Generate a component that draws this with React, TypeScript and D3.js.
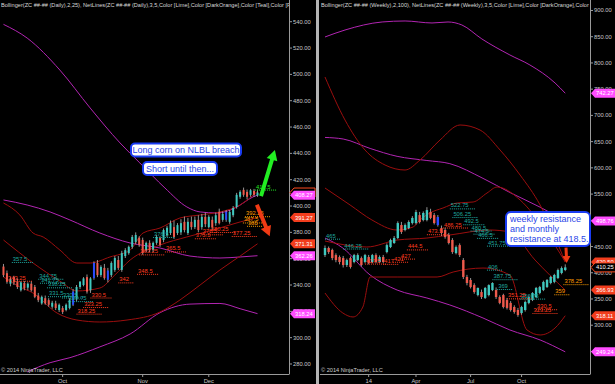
import React from "react";
import * as d3 from "d3";

type OHLC = [number, number, number, number];
type Pt = [number, number];

// ---------- DAILY (left) ----------
const dailyOHLC: OHLC[] = [
  [354, 356, 346, 347.5], [349, 351, 341, 342.5], [341, 346, 339, 344.5], [346, 347, 340, 342],
  [343, 345, 337, 338.5], [336, 343, 335, 342], [341.5, 343, 336, 337.5], [338, 342, 336, 341],
  [341, 343, 335, 336], [338.5, 340, 330, 331], [332, 334, 327, 328.5], [326, 332, 325, 331],
  [330, 332, 325, 326], [328.5, 330, 323.5, 325], [323.5, 328, 322, 326.5], [326, 328, 321, 322.5],
  [321, 326, 319.5, 325], [322.5, 324, 318, 319.5], [321, 326, 320, 325], [322.5, 330, 321.5, 328.5],
  [325, 337, 324, 335], [329, 340, 327.5, 338.5], [338.5, 343, 337, 342.5], [340, 346, 339, 345],
  [346, 348, 333.5, 335], [336, 346, 334, 345], [345.25, 358, 344, 356.75], [356.75, 359, 346, 347.5],
  [347.5, 355, 346, 353.75], [353, 356, 344, 345.25], [351, 353, 342, 344], [347.5, 358, 346, 356.75],
  [351.5, 362, 350, 360.5], [359, 362, 351.5, 353], [351.5, 366, 350, 364.25], [362, 368, 360.5, 366.5],
  [364.25, 370, 363, 369], [369, 378, 367.5, 376.5], [372.75, 380, 371, 378], [375.75, 377, 369, 370.5],
  [374.25, 376, 363, 364.25], [366.5, 373, 365, 372], [372, 374, 365, 366.5], [366.5, 373, 365, 372],
  [372, 378, 370.5, 376.5], [375.75, 377, 369, 370.5], [374.25, 383, 372.5, 381.75], [378, 385, 376.5, 383.5],
  [379.5, 389, 378, 387], [384, 389, 375, 376.5], [379.5, 387, 378, 385.5], [380, 390, 378, 387],
  [388, 392, 380, 381.75], [379.5, 391, 378, 388], [388, 392, 382, 384], [384, 392, 382.5, 389.5],
  [389.5, 393, 380, 381.75], [384, 394, 382, 391.75], [391.75, 395, 384, 386.25], [384, 393, 383, 391.75],
  [389.5, 392, 382, 384], [387, 395, 385, 393], [395.5, 398, 386, 387], [389.5, 396, 388, 394],
  [395.5, 397, 388, 389.5], [388, 397, 386.5, 395.5], [393, 400, 391.5, 398.5], [399.25, 410, 398, 408.5],
  [407, 412, 405.5, 410.75], [412.25, 414, 407, 408.5], [410.75, 412.5, 405, 407], [408.5, 413, 407, 412],
  [411.5, 413, 407, 408.5], [408, 412.5, 407, 410.25],
];
const dailyBlue = [20, 26, 30, 64];
const dailyTickIdx = [17, 40, 59];
const dailyTickLabels = ["Oct", "Nov", "Dec"];
const dailyYTicks = [280, 300, 320, 340, 360, 380, 400, 420, 440, 460, 480, 500, 520, 540];

const dailyBBUpper: Pt[] = [[0, 538], [6.8, 527.6], [16.2, 503.3], [24.9, 474.5], [33.5, 447.9], [39.2, 432.7], [46.4, 413.7], [52.7, 399.3], [56.5, 395.5], [61.4, 394.7], [66.5, 398.5], [71.7, 406.9], [73, 408.27]];
const dailyBBMid: Pt[] = [[0, 404.6], [6.8, 400.8], [13.4, 395.5], [19.1, 389.4], [27.7, 379.5], [36.4, 371.9], [45, 368.1], [53.6, 362], [62.2, 360.5], [68, 361.3], [73, 362.26]];
const dailyBBLower: Pt[] = [[6.8, 274], [13.4, 281], [19.1, 284.8], [27.7, 293], [36.4, 302.8], [45, 319], [53.6, 325.5], [62.2, 326], [68, 322], [73, 318.24]];
const dailyRedUpper: Pt[] = [[0, 402.3], [4.7, 393.2], [8.5, 379.5], [11.4, 376.5], [16.2, 366.6], [21.1, 356.7], [24.9, 356.7], [30.6, 361.3], [36.4, 366.6], [40.1, 379.5], [45, 383.3], [50.7, 390.9], [56.5, 393.2], [62.2, 395.5], [68, 400.8], [73, 411.2]];
const dailyRedMid: Pt[] = [[0, 374.2], [8.5, 356.7], [16.2, 343], [21.1, 335.5], [27.7, 337.7], [32, 347.6], [36.4, 359], [45, 370.4], [52.7, 376.5], [60.2, 381.8], [68, 387.9], [73, 391.27]];
const dailyRedLower: Pt[] = [[0, 346.1], [4.7, 338.5], [8.5, 333.9], [15.4, 318.7], [21.1, 313.4], [27.7, 311.9], [35.5, 313.4], [45, 319.5], [50.7, 328.6], [56.5, 340], [62.2, 351.4], [68, 362], [73, 371.31]];

// NetLines levels: [bar index, price]
const dailyNetTeal: Pt[] = [[2.4, 357.5], [10, 344.75], [10.5, 341.75], [12.5, 338.25], [12.8, 331.5], [16.8, 330.5], [18.5, 327.75], [43, 376.5]];
const dailyNetRed: Pt[] = [[1, 343.25], [25, 330.5], [22.9, 323.25], [21, 318.25], [39, 363.25], [38.4, 348.5], [33, 342], [46.4, 365.5], [55, 375.5], [57, 378.5], [59.3, 380.25], [65.6, 377.25]];
const dailyNetOrange: Pt[] = [[69.4, 392.25], [68.8, 387.5], [70, 385]];
const dailyNetLime: Pt[] = [[72.3, 412.5]];

const dailyLast = 410.25;
const dailyMagentaTags = [408.27, 362.26, 318.24];
const dailyRedTags = [391.27, 371.31];

// ---------- WEEKLY (right) ----------
const weeklyOHLC: OHLC[] = [
  [433.75, 452, 430, 447.25], [447.25, 450, 436, 439.5], [443.5, 446, 424, 428], [433.75, 437, 420, 424.25],
  [430, 433, 416, 420.5], [428, 432, 410, 414.75], [414.75, 427, 411, 424.25], [428, 431, 408, 411],
  [420.5, 436, 418, 433.75], [424.25, 437, 422, 433.75], [428, 431, 412, 414.75], [420.5, 436, 418, 433.75],
  [430, 434, 416, 418.5], [420.5, 436, 418, 433.75], [433.75, 437, 418, 420.5], [420.5, 433, 418, 430],
  [430, 434, 418, 420.5], [439.5, 456, 437, 452.75], [449, 465, 447, 462.5], [456.75, 470, 455, 466.25],
  [466.25, 498, 464, 494.75], [491, 497, 474, 477.75], [481.5, 494, 479, 491], [485.25, 500, 483, 496.75],
  [494.75, 508, 492, 504.5], [494.75, 520, 492, 515.75], [510, 516, 494, 496.75], [500.5, 517, 498, 514],
  [500.5, 525, 498, 519.5], [515.75, 522, 502, 504.5], [510, 514, 492, 494.75], [506.25, 510, 488, 491],
  [485.25, 490, 470, 475.75], [481.5, 486, 465, 468.25], [472, 476, 454, 456.75], [462.5, 466, 436, 439.5],
  [437.5, 452, 435, 449], [452.75, 456, 430, 433.75], [424.25, 428, 388, 392], [392, 396, 376, 380.5],
  [386.25, 390, 370, 372.75], [376.5, 380, 360, 363.25], [357.5, 372, 355, 371], [363.25, 368, 350, 353.75],
  [352, 373, 350, 371], [357.5, 378, 355, 376.5], [367, 382, 365, 380.5], [367, 372, 350, 353.75],
  [353.75, 357, 340, 342.5], [357.5, 360, 332, 334.75], [348, 352, 330, 333], [342.5, 346, 326, 329],
  [334.75, 338, 322, 325.25], [329, 333, 316, 319.5], [323.25, 337, 320, 334.75], [329, 347, 326, 344.25],
  [342.5, 357, 340, 353.75], [348, 363, 346, 361.5], [353.75, 373, 352, 371], [361.5, 375, 359, 372.75],
  [367, 385, 365, 382.5], [372.75, 388, 371, 386.25], [380.5, 394, 378, 392], [382.5, 398, 380, 395.75],
  [390, 408, 388, 405.25], [399.5, 412, 397, 409], [405.25, 416, 403, 410.25],
];
const weeklyBlue = [31];
const weeklyTickIdx = [12, 25, 40, 54];
const weeklyTickLabels = ["14", "Apr", "Jul", "Oct"];
const weeklyYTicks = [250, 300, 350, 400, 450, 500, 550, 600, 650, 700, 750, 800, 850, 900];

const weeklyBBUpper: Pt[] = [[0, 849.5], [5.5, 862.8], [15.7, 878.1], [22, 880], [29.4, 876.2], [33.8, 878.1], [37.6, 872.4], [43.1, 845.7], [50.8, 815.2], [56.3, 796.1], [63.2, 761.8], [66, 742.27]];
const weeklyBBMid: Pt[] = [[0, 658], [5, 655], [12.4, 637], [19.8, 622], [28, 614], [34.3, 608], [43.4, 580], [50.8, 553], [59.1, 525], [66, 498.76]];
const weeklyBBLower: Pt[] = [[0, 466.2], [4.9, 447.2], [12.4, 395.7], [19.8, 367.1], [28, 351.9], [34.3, 338.6], [43.4, 313.8], [50.8, 290.9], [59.1, 271.9], [66, 249.24]];
const weeklyRedOuter: Pt[] = [[0, 773.2], [5.5, 691.2], [11, 634], [16.5, 605.4], [22, 595.9], [26.1, 614.9], [31.6, 653.1], [37.1, 681.7], [42.6, 672.1], [48.1, 634], [53.6, 586.3], [59.1, 529.1], [66, 420.5]];
const weeklyRedUpper: Pt[] = [[0, 561.6], [6.9, 529.2], [12.9, 500.6], [19.8, 481.5], [24.2, 487.2], [26.1, 500.6], [28.8, 513.9], [32.4, 523.4], [36.3, 533], [40.7, 534.9], [44.5, 552], [47.3, 563.5], [53.6, 538.7], [60.4, 481.5], [66, 420.5]];
const weeklyRedMid: Pt[] = [[0, 460.5], [11.5, 449.1], [19.8, 462.4], [28, 466.2], [34.3, 472], [45.3, 481.5], [50.8, 477.7], [57.7, 424.3], [66, 366.93]];
const weeklyRedLower: Pt[] = [[0, 361.4], [4.9, 323.3], [7.7, 315.7], [10.4, 334.7], [12.4, 391.9], [19.8, 391.9], [30.8, 391.9], [35.2, 401.4], [43.4, 409], [50.8, 395.7], [55.5, 290.9], [59.1, 281.4], [63.2, 294.7], [66, 318.11]];

const weeklyNetTeal: Pt[] = [[0, 465], [5, 446.25], [34.3, 522.75], [35, 506.25], [38, 492.5], [40, 480.5], [40.8, 474.5], [41.8, 466.5], [44.5, 451.75], [44.5, 406], [46, 387.75], [47.3, 369], [53.6, 350.75]];
const weeklyNetRed: Pt[] = [[11, 417.5], [16, 417], [18.7, 421], [20.6, 427], [22.5, 444.5], [28, 473.5], [32.4, 486.25], [50, 351.25], [58, 330.5], [57, 323.25]];
const weeklyNetOrange: Pt[] = [[65.5, 378.25], [63, 359]];

const weeklyLast = 410.25;
const weeklyMagentaTags = [742.27, 498.76, 249.24];
const weeklyRedTags = [420.5, 366.93, 318.11];

// ---------- layout ----------
const W = 615, H = 384;
const BOTTOM = 374;
const L = { x0: 0, x1: 289 };
const R = { x0: 320, x1: 590 };

const FONT = "Liberation Sans, Arial, sans-serif";
const UP = "#3fc8bf";
const DOWN = "#ef5a4c";
const BLUE = "#2a4cff";
const TEAL = "#1fa79f";
const NETRED = "#ff3b1f";
const ORANGE = "#ff9c00";
const LIME = "#22ee22";
const MAG = "#b225b2";
const DRED = "#9b0e0e";
const GRID = "#9a9a9a";

function arrowPath(x1: number, y1: number, x2: number, y2: number, shaft: number, headW: number, headL: number) {
  const dx = x2 - x1, dy = y2 - y1, len = Math.hypot(dx, dy);
  const ux = dx / len, uy = dy / len, px = -uy, py = ux;
  const bx = x2 - ux * headL, by = y2 - uy * headL;
  const p = [
    [x1 + px * shaft / 2, y1 + py * shaft / 2],
    [bx + px * shaft / 2, by + py * shaft / 2],
    [bx + px * headW / 2, by + py * headW / 2],
    [x2, y2],
    [bx - px * headW / 2, by - py * headW / 2],
    [bx - px * shaft / 2, by - py * shaft / 2],
    [x1 - px * shaft / 2, y1 - py * shaft / 2],
  ];
  return "M" + p.map((q) => q[0].toFixed(1) + "," + q[1].toFixed(1)).join("L") + "Z";
}

function Tag({ x, y, text, fill, stroke }: { x: number; y: number; text: string; fill: string; stroke?: string }) {
  const h = 4.5;
  const d = `M${x},${y}L${x + 4},${y - h}L${x + 25},${y - h}L${x + 25},${y + h}L${x + 4},${y + h}Z`;
  return (
    <g>
      <path d={d} fill={fill} stroke={stroke || "none"} strokeWidth={1} />
      <text x={x + 5} y={y + 2} fontSize={5.8} fill="#ffffff" fontFamily={FONT}>{text}</text>
    </g>
  );
}

function Panel(props: {
  id: string; x0: number; x1: number; xDomain: [number, number]; yDomain: [number, number];
  ohlc: OHLC[]; blue: number[]; tickIdx: number[]; tickLabels: string[]; yTicks: number[];
  bands: { pts: Pt[]; color: string }[];
  net: { pts: Pt[]; color: string }[];
  magTags: number[]; redTags: number[]; last: number; title: string; bodyW: number;
}) {
  const { x0, x1 } = props;
  const xs = d3.scaleLinear().domain(props.xDomain).range([x0, x1]);
  const ys = d3.scaleLinear().domain(props.yDomain).range([BOTTOM, 0]);
  const line = d3.line<Pt>().x((d) => xs(d[0])).y((d) => ys(d[1])).curve(d3.curveMonotoneX);
  const clip = "clip-" + props.id;
  return (
    <g>
      <defs>
        <clipPath id={clip}><rect x={x0} y={0} width={x1 - x0} height={BOTTOM} /></clipPath>
      </defs>
      <g clipPath={`url(#${clip})`}>
        {props.bands.map((b, i) => (
          <path key={"b" + i} d={line(b.pts) || ""} fill="none" stroke={b.color} strokeWidth={1} />
        ))}
        {props.ohlc.map((c, i) => {
          const [o, h, l, cl] = c;
          const cx = xs(i);
          const up = cl >= o;
          const col = props.blue.includes(i) ? BLUE : up ? UP : DOWN;
          const top = ys(Math.max(o, cl)), bot = ys(Math.min(o, cl));
          return (
            <g key={"c" + i}>
              <line x1={cx} x2={cx} y1={ys(h)} y2={ys(l)} stroke="#b8b8b8" strokeWidth={0.8} />
              <rect x={cx - props.bodyW / 2} y={top} width={props.bodyW} height={Math.max(1, bot - top)} fill={col} />
            </g>
          );
        })}
        {props.net.map((n, k) =>
          n.pts.map((p, i) => {
            const x = xs(p[0]);
            const y = ys(p[1]);
            const t = String(p[1]);
            const w = t.length * 3.2 + 6;
            return (
              <g key={"n" + k + "-" + i}>
                <line x1={x} x2={x + w} y1={y + 0.5} y2={y + 0.5} stroke={n.color} strokeWidth={1} strokeDasharray="1,1" />
                <text x={x + 1} y={y - 1} fontSize={5.8} fill={n.color} fontFamily={FONT}>{t}</text>
              </g>
            );
          })
        )}
        <text x={x0 + 1} y={7} fontSize={5.6} fill="#d8d8d8" fontFamily={FONT}>{props.title}</text>
      </g>
      <text x={x0 + 1} y={372} fontSize={5.6} fill="#cfcfcf" fontFamily={FONT}>© 2014 NinjaTrader, LLC</text>
      {/* axes */}
      <line x1={x1 + 0.5} x2={x1 + 0.5} y1={0} y2={BOTTOM} stroke={GRID} strokeWidth={1} />
      <line x1={x0} x2={x1 + 0.5} y1={BOTTOM + 0.5} y2={BOTTOM + 0.5} stroke={GRID} strokeWidth={1} />
      {props.yTicks.map((t) => (
        <g key={"y" + t}>
          <line x1={x1 + 1} x2={x1 + 3} y1={ys(t)} y2={ys(t)} stroke={GRID} />
          <text x={x1 + 4} y={ys(t) + 2} fontSize={5.8} fill="#c8c8c8" fontFamily={FONT}>{t.toFixed(2)}</text>
        </g>
      ))}
      {props.tickIdx.map((t, i) => (
        <g key={"x" + i}>
          <line x1={xs(t)} x2={xs(t)} y1={BOTTOM} y2={BOTTOM + 3} stroke={GRID} />
          <text x={xs(t)} y={382.5} fontSize={5.8} fill="#c8c8c8" fontFamily={FONT} textAnchor="middle">{props.tickLabels[i]}</text>
        </g>
      ))}
      {props.redTags.map((v) => <Tag key={"r" + v} x={x1 + 1} y={ys(v)} text={v.toFixed(2)} fill="#f23d1d" />)}
      <Tag x={x1 + 1} y={ys(props.last)} text={props.last.toFixed(2)} fill="#000000" stroke="#ff4a20" />
      {props.magTags.map((v) => <Tag key={"m" + v} x={x1 + 1} y={ys(v)} text={v.toFixed(2)} fill="#ff4dff" />)}
    </g>
  );
}

export default function App() {
  const lxDomain: [number, number] = [-1, 82.05];
  const rxDomain: [number, number] = [-1.37, 72.8];
  const lyDomain: [number, number] = [272.4, 556.5];
  const ryDomain: [number, number] = [207, 920];
  const lx = d3.scaleLinear().domain(lxDomain).range([L.x0, L.x1]);
  const ly = d3.scaleLinear().domain(lyDomain).range([BOTTOM, 0]);
  const rx = d3.scaleLinear().domain(rxDomain).range([R.x0, R.x1]);
  const ry = d3.scaleLinear().domain(ryDomain).range([BOTTOM, 0]);

  return (
    <svg width={W} height={H} style={{ display: "block", position: "absolute", left: 0, top: 0, background: "#000" }}>
      <rect x={0} y={0} width={W} height={H} fill="#000" />
      <Panel
        id="l" x0={L.x0} x1={L.x1} xDomain={lxDomain} yDomain={lyDomain}
        ohlc={dailyOHLC} blue={dailyBlue} tickIdx={dailyTickIdx} tickLabels={dailyTickLabels} yTicks={dailyYTicks}
        bands={[
          { pts: dailyBBUpper, color: MAG }, { pts: dailyBBMid, color: MAG }, { pts: dailyBBLower, color: MAG },
          { pts: dailyRedUpper, color: DRED }, { pts: dailyRedMid, color: DRED }, { pts: dailyRedLower, color: DRED },
        ]}
        net={[
          { pts: dailyNetTeal, color: TEAL }, { pts: dailyNetRed, color: NETRED },
          { pts: dailyNetOrange, color: ORANGE }, { pts: dailyNetLime, color: LIME },
        ]}
        magTags={dailyMagentaTags} redTags={dailyRedTags} last={dailyLast} bodyW={2}
        title="Bollinger(ZC ##-## (Daily),2,25), NetLines(ZC ##-## (Daily),3,5,Color [Lime],Color [DarkOrange],Color [Teal],Color [Firebrick])"
      />
      <Panel
        id="r" x0={R.x0} x1={R.x1} xDomain={rxDomain} yDomain={ryDomain}
        ohlc={weeklyOHLC} blue={weeklyBlue} tickIdx={weeklyTickIdx} tickLabels={weeklyTickLabels} yTicks={weeklyYTicks}
        bands={[
          { pts: weeklyBBUpper, color: MAG }, { pts: weeklyBBMid, color: MAG }, { pts: weeklyBBLower, color: MAG },
          { pts: weeklyRedOuter, color: DRED }, { pts: weeklyRedUpper, color: DRED },
          { pts: weeklyRedMid, color: DRED }, { pts: weeklyRedLower, color: DRED },
        ]}
        net={[
          { pts: weeklyNetTeal, color: TEAL }, { pts: weeklyNetRed, color: NETRED }, { pts: weeklyNetOrange, color: ORANGE },
        ]}
        magTags={weeklyMagentaTags} redTags={weeklyRedTags} last={weeklyLast} bodyW={2.4}
        title="Bollinger(ZC ##-## (Weekly),2,100), NetLines(ZC ##-## (Weekly),3,5,Color [Lime],Color [DarkOrange],Color [Teal],Color [Firebrick])"
      />
      {/* separator */}
      <rect x={316} y={0} width={3} height={H} fill="#b4b4b4" />

      {/* arrows */}
      <path d={arrowPath(lx(74), ly(407.5), lx(78), ly(442.5), 4, 11, 10)} fill={LIME} />
      <path d={arrowPath(lx(72.8), ly(401), lx(76.5), ly(377), 4, 11, 10)} fill="#f03a14" />
      <path d={arrowPath(rx(66.2), ry(448), rx(66.4), ry(418.5), 3, 8, 7)} fill="#f03a14" />

      {/* callouts */}
      <g fontFamily={FONT}>
        <rect x={131} y={143.5} width={110} height={13} rx={4} fill="#ffffff" stroke="#1a3cf2" strokeWidth={2} />
        <text x={186} y={153.3} fontSize={9} fill="#2a45e8" textAnchor="middle">Long corn on NLBL breach</text>
        <rect x={143} y={162} width={74} height={13} rx={4} fill="#ffffff" stroke="#1a3cf2" strokeWidth={2} />
        <text x={180} y={171.8} fontSize={9} fill="#2a45e8" textAnchor="middle">Short until then...</text>
        <rect x={506} y={212} width={84} height={34} rx={5} fill="#ffffff" stroke="#1a3cf2" strokeWidth={2} />
        <text x={510} y={222} fontSize={9} fill="#2a45e8">weekly resistance</text>
        <text x={510} y={232} fontSize={9} fill="#2a45e8">and monthly</text>
        <text x={510} y={242} fontSize={9} fill="#2a45e8">resistance at 418.5.</text>
      </g>
    </svg>
  );
}
